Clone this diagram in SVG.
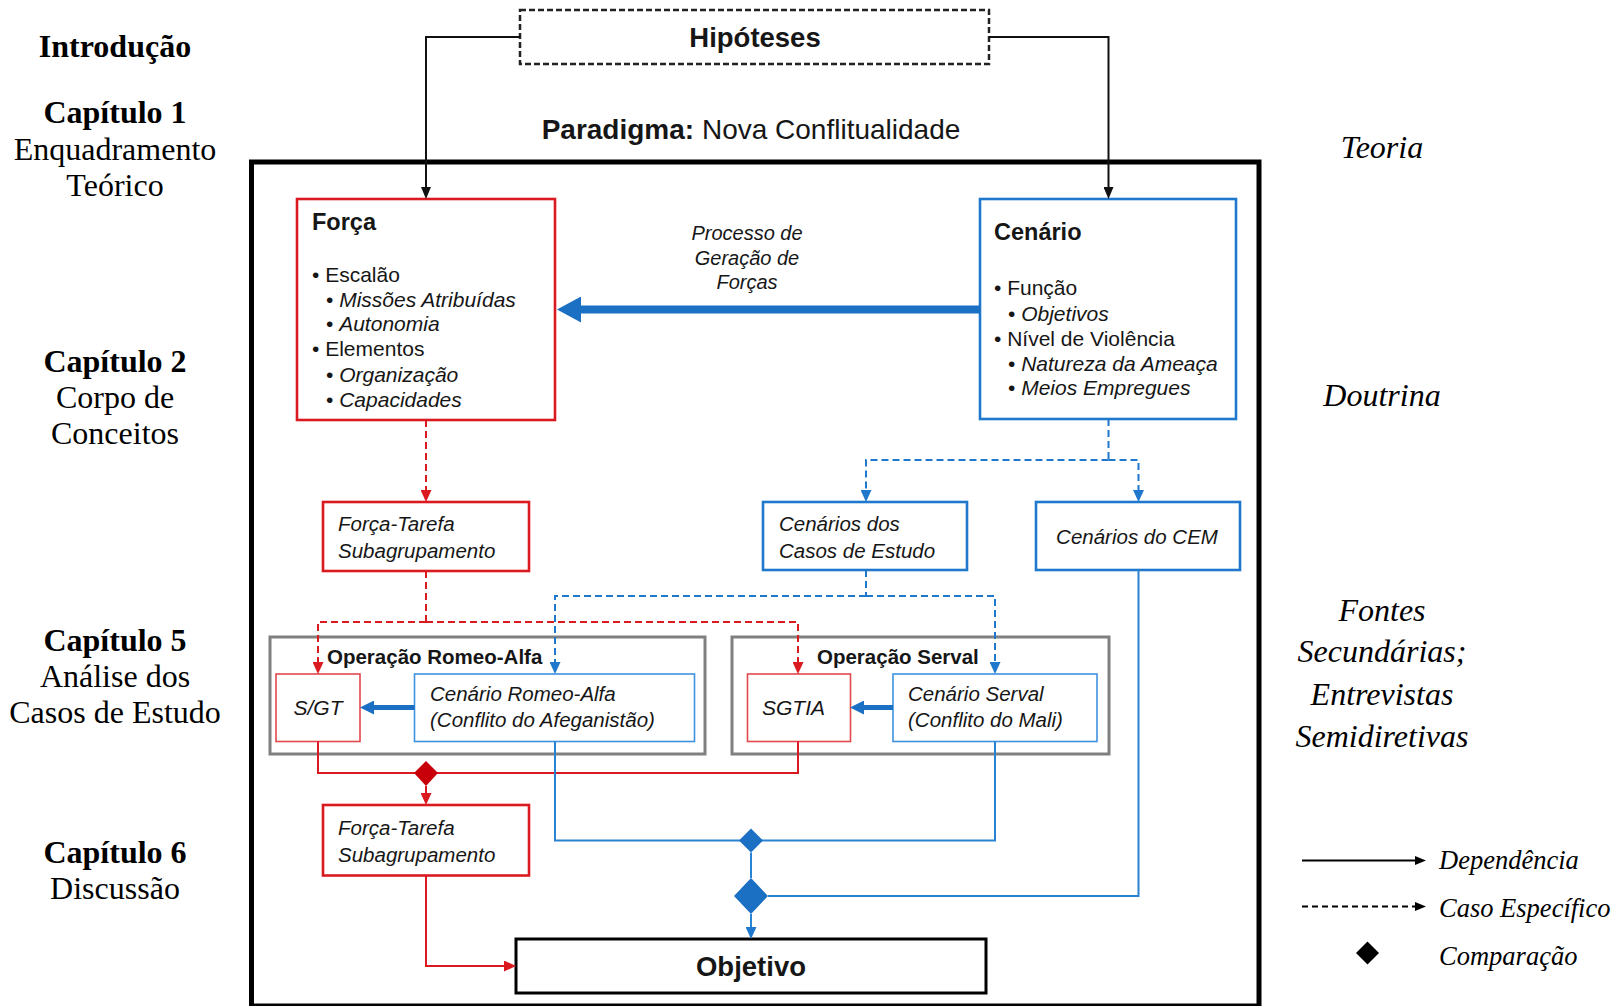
<svg xmlns="http://www.w3.org/2000/svg" width="1617" height="1006" viewBox="0 0 1617 1006">
<style>
.serif{font-family:"Liberation Serif","Times New Roman",serif;fill:#000}
.sb{font-weight:bold}
.si{font-style:italic}
.sans{font-family:"Liberation Sans",Arial,sans-serif;fill:#161616}
.b{font-weight:bold}
.i{font-style:italic}
.lcol{font-size:32px;text-anchor:middle}
.body{font-size:21px}
.redBox{fill:#fff;stroke:#da1a20;stroke-width:2.6}
.blueBox{fill:#fff;stroke:#1f78cc;stroke-width:2.6}
.redIn{fill:#fff;stroke:#e2474c;stroke-width:1.6}
.blueIn{fill:#fff;stroke:#3f92de;stroke-width:1.6}
.grayBox{fill:none;stroke:#808080;stroke-width:3}
.kLine{fill:none;stroke:#111;stroke-width:2}
.rDash{fill:none;stroke:#da1a20;stroke-width:2;stroke-dasharray:7 4}
.bDash{fill:none;stroke:#1f78cc;stroke-width:2;stroke-dasharray:7 4}
.rLine{fill:none;stroke:#da1a20;stroke-width:2}
.bLine{fill:none;stroke:#2a82d2;stroke-width:2}
</style>
<defs>
<marker id="aK" markerUnits="userSpaceOnUse" markerWidth="12" markerHeight="10" refX="0" refY="5" orient="auto"><path d="M0,0 L12,5 L0,10 z" fill="#111"/></marker>
<marker id="aR" markerUnits="userSpaceOnUse" markerWidth="12" markerHeight="11" refX="0" refY="5.5" orient="auto"><path d="M0,0 L12,5.5 L0,11 z" fill="#da1a20"/></marker>
<marker id="aB" markerUnits="userSpaceOnUse" markerWidth="12" markerHeight="11" refX="0" refY="5.5" orient="auto"><path d="M0,0 L12,5.5 L0,11 z" fill="#1f78cc"/></marker>
<marker id="aBm" markerUnits="userSpaceOnUse" markerWidth="14" markerHeight="14" refX="0" refY="7" orient="auto"><path d="M0,0 L14,7 L0,14 z" fill="#1b70c4"/></marker>
<marker id="aBL" markerUnits="userSpaceOnUse" markerWidth="24" markerHeight="26" refX="0" refY="13" orient="auto"><path d="M0,0 L24,13 L0,26 z" fill="#1b70c4"/></marker>
<marker id="aL" markerUnits="userSpaceOnUse" markerWidth="11" markerHeight="9" refX="0" refY="4.5" orient="auto"><path d="M0,0 L11,4.5 L0,9 z" fill="#000"/></marker>
</defs>
<rect width="1617" height="1006" fill="#fff"/>

<!-- left column -->
<g id="chapters" class="serif lcol">
<text x="115" y="57" class="sb">Introdução</text>
<text x="115" y="123" class="sb">Capítulo 1</text>
<text x="115" y="160">Enquadramento</text>
<text x="115" y="196">Teórico</text>
<text x="115" y="372" class="sb">Capítulo 2</text>
<text x="115" y="408">Corpo de</text>
<text x="115" y="444">Conceitos</text>
<text x="115" y="651" class="sb">Capítulo 5</text>
<text x="115" y="687">Análise dos</text>
<text x="115" y="723">Casos de Estudo</text>
<text x="115" y="863" class="sb">Capítulo 6</text>
<text x="115" y="899">Discussão</text>
</g>

<!-- right column -->
<g id="sources" class="serif si lcol">
<text x="1382" y="158">Teoria</text>
<text x="1382" y="406">Doutrina</text>
<text x="1382" y="621">Fontes</text>
<text x="1382" y="662">Secundárias;</text>
<text x="1382" y="705">Entrevistas</text>
<text x="1382" y="747">Semidiretivas</text>
</g>

<!-- frame -->
<rect id="frame" x="251.5" y="162" width="1007.5" height="844" fill="none" stroke="#000" stroke-width="5"/>

<text id="paradigma" x="751" y="139" class="sans" font-size="28" text-anchor="middle" fill="#000"><tspan class="b">Paradigma:</tspan> Nova Conflitualidade</text>

<g id="hipoteses">
<rect x="520" y="10" width="469" height="54" fill="#fff" stroke="#222" stroke-width="2.5" stroke-dasharray="6 3"/>
<text x="755" y="47" class="sans b" font-size="27.5" text-anchor="middle">Hipóteses</text>
</g>

<g id="forca">
<rect class="redBox" x="297" y="199" width="258" height="221"/>
<text x="312" y="230" class="sans b" font-size="23.5">Força</text>
<g class="sans body">
<text x="312" y="282">• Escalão</text>
<text x="326" y="306.5">• <tspan class="i">Missões Atribuídas</tspan></text>
<text x="326" y="331">• <tspan class="i">Autonomia</tspan></text>
<text x="312" y="356">• Elementos</text>
<text x="326" y="381.5">• <tspan class="i">Organização</tspan></text>
<text x="326" y="406.5">• <tspan class="i">Capacidades</tspan></text>
</g>
</g>

<g id="cenario">
<rect class="blueBox" x="980" y="199" width="256" height="220"/>
<text x="994" y="240" class="sans b" font-size="23.5">Cenário</text>
<g class="sans body">
<text x="994" y="295">• Função</text>
<text x="1008" y="320.5">• <tspan class="i">Objetivos</tspan></text>
<text x="994" y="345.5">• Nível de Violência</text>
<text x="1008" y="370.5">• <tspan class="i">Natureza da Ameaça</tspan></text>
<text x="1008" y="395">• <tspan class="i">Meios Empregues</tspan></text>
</g>
</g>

<g id="processo" class="sans i" font-size="20" text-anchor="middle">
<text x="747" y="240">Processo de</text>
<text x="747" y="264.5">Geração de</text>
<text x="747" y="289">Forças</text>
</g>

<g id="ft1">
<rect class="redBox" x="323" y="502" width="206" height="69"/>
<text x="338" y="531" class="sans i" font-size="20.5">Força-Tarefa</text>
<text x="338" y="558" class="sans i" font-size="20.5">Subagrupamento</text>
</g>

<g id="cenarios-casos">
<rect class="blueBox" x="763" y="502" width="204" height="68"/>
<text x="779" y="531" class="sans i" font-size="20.5">Cenários dos</text>
<text x="779" y="558" class="sans i" font-size="20.5">Casos de Estudo</text>
</g>

<g id="cenarios-cem">
<rect class="blueBox" x="1036" y="502" width="204" height="68"/>
<text x="1137" y="544" class="sans i" font-size="20.5" text-anchor="middle">Cenários do CEM</text>
</g>

<g id="op-romeo">
<rect class="grayBox" x="270" y="637" width="435" height="117"/>
<text x="327" y="664" class="sans b" font-size="20.5">Operação Romeo-Alfa</text>
</g>
<g id="sgt">
<rect class="redIn" x="276" y="674" width="84" height="67.5"/>
<text x="318" y="715" class="sans i" font-size="21" text-anchor="middle">S/GT</text>
</g>
<g id="cen-romeo">
<rect class="blueIn" x="414.5" y="674" width="280" height="67.5"/>
<text x="430" y="701" class="sans i" font-size="20.5">Cenário Romeo-Alfa</text>
<text x="430" y="727" class="sans i" font-size="20.5">(Conflito do Afeganistão)</text>
</g>

<g id="op-serval">
<rect class="grayBox" x="732" y="637" width="377" height="117"/>
<text x="817" y="664" class="sans b" font-size="20.5">Operação Serval</text>
</g>
<g id="sgtia">
<rect class="redIn" x="747.5" y="674" width="103" height="67.5"/>
<text x="762" y="715" class="sans i" font-size="21">SGTIA</text>
</g>
<g id="cen-serval">
<rect class="blueIn" x="893" y="674" width="204" height="67.5"/>
<text x="908" y="701" class="sans i" font-size="20.5">Cenário Serval</text>
<text x="908" y="727" class="sans i" font-size="20.5">(Conflito do Mali)</text>
</g>

<g id="ft2">
<rect class="redBox" x="323" y="805" width="206" height="70.5"/>
<text x="338" y="835" class="sans i" font-size="20.5">Força-Tarefa</text>
<text x="338" y="862" class="sans i" font-size="20.5">Subagrupamento</text>
</g>

<g id="objetivo">
<rect x="516" y="939" width="470" height="54" fill="#fff" stroke="#000" stroke-width="3"/>
<text x="751" y="976" class="sans b" font-size="27.5" text-anchor="middle" fill="#000">Objetivo</text>
</g>

<g id="connectors">
<path class="kLine" d="M520,37 H426 V187" marker-end="url(#aK)"/>
<path class="kLine" d="M989,37 H1108.5 V187" marker-end="url(#aK)"/>
<path d="M980,309.5 H581" fill="none" stroke="#1b70c4" stroke-width="8" marker-end="url(#aBL)"/>
<path class="rDash" d="M426,420 V490" marker-end="url(#aR)"/>
<path class="bDash" d="M1108.5,419 V460"/>
<path class="bDash" d="M1108.5,460 H866 V490" marker-end="url(#aB)"/>
<path class="bDash" d="M1108.5,460 H1138.5 V490" marker-end="url(#aB)"/>
<path class="bDash" d="M866,570 V596"/>
<path class="bDash" d="M866,596 H555 V662" marker-end="url(#aB)"/>
<path class="bDash" d="M866,596 H995 V662" marker-end="url(#aB)"/>
<path class="rDash" d="M426,571 V622"/>
<path class="rDash" d="M426,622 H318 V662" marker-end="url(#aR)"/>
<path class="rDash" d="M426,622 H798 V662" marker-end="url(#aR)"/>
<path d="M414.5,707.5 H374" fill="none" stroke="#1b70c4" stroke-width="5" marker-end="url(#aBm)"/>
<path d="M893,707.5 H864" fill="none" stroke="#1b70c4" stroke-width="5" marker-end="url(#aBm)"/>
<path class="rLine" d="M318,741.5 V773 H798 V741.5"/>
<path d="M426,761 L438,773 L426,786 L414,773 z" fill="#c8000a"/>
<path class="rLine" d="M426,786 V793" marker-end="url(#aR)"/>
<path class="rLine" d="M426,875.5 V966 H504" marker-end="url(#aR)"/>
<path class="bLine" d="M555,741.5 V840.5 H995 V741.5"/>
<path d="M751,828.5 L763,840.5 L751,852.5 L739,840.5 z" fill="#1b70c4"/>
<path class="bLine" d="M751,852.5 V878"/>
<path class="bLine" d="M1138.5,570 V896 H768"/>
<path d="M751,878 L768,896 L751,914 L734,896 z" fill="#1b70c4"/>
<path class="bLine" d="M751,914 V927" marker-end="url(#aB)"/>
</g>

<g id="legend">
<path d="M1302,860.5 H1415" stroke="#000" stroke-width="2" fill="none" marker-end="url(#aL)"/>
<path d="M1302,906.5 H1415" stroke="#000" stroke-width="2" fill="none" stroke-dasharray="6 4" marker-end="url(#aL)"/>
<path d="M1367.5,941.5 L1379,953 L1367.5,964.5 L1356,953 z" fill="#000"/>
<text x="1439" y="869" class="serif si" font-size="26.5">Dependência</text>
<text x="1439" y="917" class="serif si" font-size="26.5">Caso Específico</text>
<text x="1439" y="965" class="serif si" font-size="26.5">Comparação</text>
</g>
</svg>
